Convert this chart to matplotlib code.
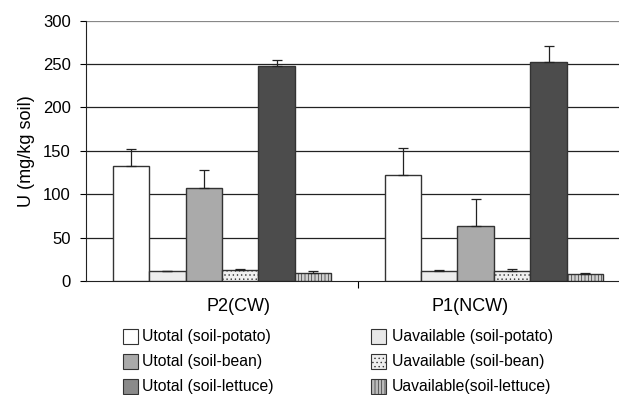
import matplotlib
matplotlib.use("Agg")
import matplotlib.pyplot as plt
import numpy as np
from matplotlib.patches import Rectangle

plt.rcParams['font.family'] = ['Liberation Sans', 'DejaVu Sans']
plt.rcParams['hatch.linewidth'] = 0.5

groups = ["P2(CW)", "P1(NCW)"]
series = ["Utotal (soil-potato)", "Uavailable (soil-potato)", "Utotal (soil-bean)",
          "Uavailable (soil-bean)", "Utotal (soil-lettuce)", "Uavailable(soil-lettuce)"]
values = {
    "Utotal (soil-potato)": [132.5, 122.5],
    "Uavailable (soil-potato)": [11, 11],
    "Utotal (soil-bean)": [107.5, 63],
    "Uavailable (soil-bean)": [12.5, 11],
    "Utotal (soil-lettuce)": [248, 252],
    "Uavailable(soil-lettuce)": [9.5, 8.5],
}
errors = {
    "Utotal (soil-potato)": [20, 31],
    "Uavailable (soil-potato)": [0.5, 1.5],
    "Utotal (soil-bean)": [20, 32],
    "Uavailable (soil-bean)": [1, 2.5],
    "Utotal (soil-lettuce)": [7, 19],
    "Uavailable(soil-lettuce)": [1.5, 1],
}
styles = {
    "Utotal (soil-potato)": dict(fc="white", hatch=None),
    "Uavailable (soil-potato)": dict(fc="#ededed", hatch=None),
    "Utotal (soil-bean)": dict(fc="#aaaaaa", hatch=None),
    "Uavailable (soil-bean)": dict(fc="#f0f0f0", hatch="...."),
    "Utotal (soil-lettuce)": dict(fc="#4c4c4c", hatch=None),
    "Uavailable(soil-lettuce)": dict(fc="#d0d0d0", hatch="|||||"),
}
legend_fc = {
    "Utotal (soil-potato)": "white",
    "Uavailable (soil-potato)": "#e8e8e8",
    "Utotal (soil-bean)": "#aaaaaa",
    "Uavailable (soil-bean)": "#eeeeee",
    "Utotal (soil-lettuce)": "#8a8a8a",
    "Uavailable(soil-lettuce)": "#bbbbbb",
}

fig = plt.figure(figsize=(6.19, 3.95), dpi=100)
ax = fig.add_axes([86 / 619, 0.2886, 533 / 619, 0.659])

x = np.arange(len(groups))
w = 0.134
for i, s in enumerate(series):
    pos = x + (i - 2.5) * w
    st = styles[s]
    ax.bar(pos, values[s], w, color=st["fc"], edgecolor="#333333", linewidth=1.0,
           hatch=st["hatch"], zorder=3)
    err = np.array(errors[s])
    ax.errorbar(pos, values[s], yerr=[np.zeros_like(err), err], fmt="none",
                ecolor="#222222", elinewidth=0.9, capsize=3.5, capthick=0.9, zorder=4)

ax.set_xlim(-0.5, 1.46)
ax.set_ylim(0, 300)
ax.set_yticks(np.arange(0, 301, 50))
ax.tick_params(axis='y', labelsize=12, direction='out', length=4, width=0.8, pad=7)
for y in range(50, 301, 50):
    ax.axhline(y, color="#222222" if y < 300 else "#888888", lw=0.9, zorder=1)
ax.set_xticks([0.059, 0.914])
ax.set_xticklabels(groups, fontsize=13)
ax.tick_params(axis='x', length=0, pad=12)
ax.set_xticks([0.5], minor=True)
ax.tick_params(axis='x', which='minor', length=5, width=0.8, direction='out')
ax.spines['top'].set_visible(False)
ax.spines['right'].set_visible(False)
ax.spines['left'].set_color("#222222")
ax.spines['bottom'].set_color("#222222")
ax.set_ylabel("U (mg/kg soil)", fontsize=13, labelpad=6)

# legend drawn manually
col_x = [122.7 / 619, 370.7 / 619]
text_x = [141.7 / 619, 391.7 / 619]
row_y = [336, 361.5, 386]
order = [["Utotal (soil-potato)", "Utotal (soil-bean)", "Utotal (soil-lettuce)"],
         ["Uavailable (soil-potato)", "Uavailable (soil-bean)", "Uavailable(soil-lettuce)"]]
pw, ph = 15 / 619, 15 / 395
for c in range(2):
    for r in range(3):
        s = order[c][r]
        yc = 1 - row_y[r] / 395
        hatch = styles[s]["hatch"]
        rect = Rectangle((col_x[c], yc - ph / 2), pw, ph, transform=fig.transFigure,
                         facecolor=legend_fc[s], edgecolor="#333333", lw=0.8,
                         hatch=hatch)
        fig.patches.append(rect)
        fig.text(text_x[c], yc, s, fontsize=11.3, va="center", ha="left")

fig.savefig("out.png", dpi=100)
